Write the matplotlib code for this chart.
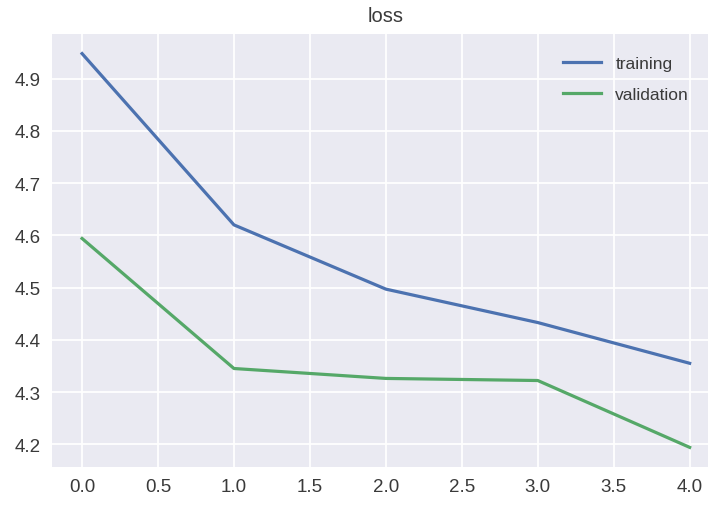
import matplotlib
matplotlib.use('Agg')
import matplotlib.pyplot as plt

# loss per epoch
epochs = [0, 1, 2, 3, 4]
train_loss = [4.948, 4.620, 4.497, 4.433, 4.355]
val_loss = [4.594, 4.345, 4.326, 4.322, 4.194]

plt.rcParams['font.family'] = ['Liberation Sans', 'DejaVu Sans']

fig = plt.figure(figsize=(7.08, 5.06), dpi=100)
ax = fig.add_axes([0.073, 0.075, 0.944, 0.856])
ax.set_facecolor('#EAEAF2')
for sp in ax.spines.values():
    sp.set_visible(False)
ax.grid(True, color='white', linewidth=1.3)
ax.set_axisbelow(True)

ax.plot(epochs, train_loss, color='#4C72B0', lw=2.3, label='training')
ax.plot(epochs, val_loss, color='#55A868', lw=2.3, label='validation')

ax.set_xticks([0, 0.5, 1, 1.5, 2, 2.5, 3, 3.5, 4])
ax.set_yticks([4.2, 4.3, 4.4, 4.5, 4.6, 4.7, 4.8, 4.9])
ax.tick_params(length=0, labelsize=13.5, labelcolor='#3a3a3a', pad=8)
ax.set_title('loss', fontsize=14.5, color='#3a3a3a', pad=9)
ax.legend(loc='upper right', frameon=False, fontsize=12.5, labelcolor='#3a3a3a',
          handlelength=2.2, labelspacing=0.9, bbox_to_anchor=(0.977, 0.985))

fig.savefig('out.png', dpi=100)
